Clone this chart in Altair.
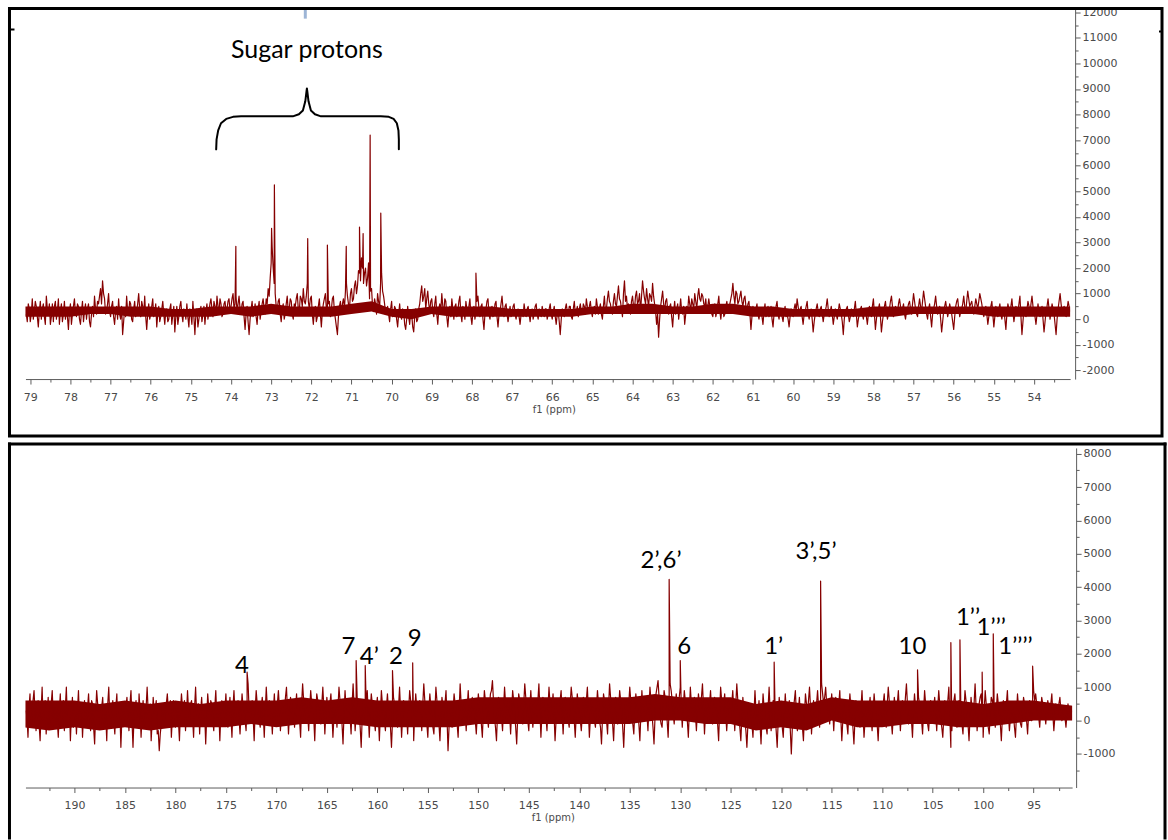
import altair as alt
import pandas as pd

RED = "#860000"
AXIS_GREY = "#5c5c5c"
LABEL_GREY = "#4a4a4a"

# ---------------- top spectrum (79 - 53 ppm) ----------------
top_start_ppm = 79.10
top_step_ppm = 0.05
# baseline noise on the 0.05 ppm grid, in units of 100 (one row = 1 ppm)
top_noise_hundreds = [
    2, 6, -1, 8, 3, 5, -3, 7, 4, 1, 9, 2, -2, 6, 5, 0, 8, 3, -1, 7,
    4, -4, 6, 2, 8, 1, 5, -2, 7, 3, 0, 6, -3, 5, 9, 2, 6, 12, 15, 8,
    3, 10, 1, 7, -2, 5, 8, 0, -6, 4, 9, 2, 6, -1, 7, 3, 10, 1, 5, 9,
    -4, 6, 2, 8, 3, -3, 5, 1, 7, -2, 4, 0, 6, 2, -5, 5, 1, 7, -1, 3,
    6, -3, 2, 7, -6, 4, 0, 5, 2, -2, 6, 3, 8, 1, 5, 9, 3, 6, 2, 7,
    4, 8, 5, 10, 6, 3, 9, 2, 7, -4, 5, -6, 4, 1, 6, -2, 7, 3, 8, 2,
    6, 9, 22, 20, 10, 3, 8, -1, 6, 2, 9, 4, 7, 0, 5, 10, 3, 8, 12, 6,
    14, 4, 9, -2, 5, 1, 8, -3, 6, 10, 2, 7, 4, 9, 0, -6, 5, 2, 8, 11,
    9, 4, 12, 8, 15, 13, 18, 24, 14, 20, 16, 8, 12, 3, 6, 10, 4, 18, 9, 2,
    5, -1, 7, 2, 4, -3, 6, 0, 3, -4, 5, -2, 2, -5, 4, 0, 6, 13, 9, 4,
    11, 3, 8, 1, 9, -2, 6, 10, 2, 7, -3, 5, 8, 0, 6, 3, 9, -1, 4, 7,
    2, 8, -2, 5, 3, 9, 1, 6, -4, 4, 8, 0, 5, 2, 7, -3, 3, 9, 1, 6,
    -1, 5, 2, 6, 0, 4, -2, 3, 6, 1, 5, -1, 4, 2, 6, 0, 3, 5, 1, 4,
    2, 6, 0, 5, -2, 3, -6, 4, 1, 6, 2, 5, 0, 7, 3, 1, 6, 2, 5, 8,
    3, 7, 1, 5, 8, 2, 6, 0, 9, 4, 11, 6, 2, 10, 5, 13, 7, 1, 15, 9,
    6, 2, 9, 4, 11, 7, 3, 15, 8, 12, 5, 9, 14, 6, -2, -7, 5, 11, 3, 8,
    2, 6, -3, 7, 4, 0, 8, 2, -2, 5, 9, 3, 6, 10, 4, 12, 7, 9, 5, 3,
    8, 4, 1, 6, 3, 9, 0, 5, 2, 7, 4, 8, 14, 6, 10, 7, 11, 5, 9, 3,
    7, -4, 5, 2, 6, 0, 4, -2, 6, 3, 1, 5, -3, 4, 7, 0, 3, -1, 5, 2,
    -3, 4, 1, 6, 8, 2, 5, -2, 3, 7, 0, 4, -5, 2, 6, 1, 5, -1, 3, 8,
    1, 5, -2, 4, 0, 6, 2, -6, 3, 5, -1, 4, 1, 7, -3, 2, 5, 0, 4, -2,
    5, 1, 8, -4, 3, 6, -5, 2, 7, 0, 4, 9, 1, 5, 2, 8, 3, 6, 0, 4,
    7, 2, 10, 4, 1, 8, 3, 11, 5, 0, 6, -3, 4, 9, 2, 5, -5, 3, 7, 1,
    6, 2, -4, 5, 8, 1, 4, 9, 3, 11, 5, 7, 2, 8, 4, 10, 6, 1, 5, -2,
    3, 7, -3, 5, 1, 6, 0, 4, -4, 6, 2, 8, -1, 5, 3, 9, -6, 4, 1, 7,
    2, 9, 4, -2, 6, 1, 5, -5, 3, 8, 0, 6, 2, -6, 4, 10, 3, 5, 1, 7,
    3,
]
# noise at the half-step points between the grid points above (units of 100)
top_noise_mid_hundreds = [
    -1, 4, 2, 0, 7, 1, 3, 0, 6, -2, 4, 6, 1, -1, 7, 3, -2, 6, 2, 0,
    1, 3, -2, 5, 2, 6, 0, 3, -1, 6, 4, -1, 2, 1, 4, 7, 9, 6, 10, 2,
    6, 3, 5, 1, 3, 0, 2, 5, -1, 1, 3, 7, 0, 4, 1, 6, 4, 7, 2, 1,
    2, 0, 5, 1, 6, 2, -1, 4, 2, 3, -1, 4, -2, 5, 1, -2, 5, 2, 4, 0,
    1, 4, -2, 1, 2, -3, 3, -1, 5, 3, 0, 6, 4, 7, 2, 5, 8, 1, 6, 3,
    7, 3, 8, 4, 9, 6, 4, 6, 1, 2, -1, 0, 7, 3, 1, 4, 0, 6, 4, 8,
    12, 16, 28, 14, 5, 7, 2, 4, 0, 6, 3, 8, 2, 6, 8, 4, 9, 5, 7, 9,
    7, 8, 2, 3, -1, 5, 2, 3, 8, 4, 6, 1, 8, 3, -3, 1, 7, 6, 4, 14,
    6, 10, 7, 13, 10, 19, 15, 20, 18, 13, 22, 11, 5, 8, 2, 7, 14, 11, 6, 4,
    2, 4, 1, 5, 0, 2, 1, 4, -2, 0, 1, 3, -3, 1, -1, 4, 10, 7, 12, 8,
    6, 7, 3, 6, 2, 4, 3, 5, 8, 1, 2, 1, 4, 5, 1, 7, 2, 5, 0, 4,
    5, 1, 3, 0, 7, 4, 5, 0, 2, 7, 2, 4, 1, 6, 1, 2, 6, 4, 5, 2,
    2, 1, 5, 2, 3, 1, 2, 1, 3, 4, 2, 3, 0, 5, 2, 4, 1, 3, 4, 0,
    4, 2, 3, 1, 2, -1, 0, 2, 4, 3, 5, 1, 4, 2, 5, 4, 3, 6, 2, 5,
    5, 3, 4, 2, 5, 4, 2, 5, 3, 8, 7, 3, 7, 6, 9, 8, 4, 10, 7, 4,
    4, 7, 5, 9, 6, 10, 9, 11, 6, 8, 10, 7, 9, 3, 2, 0, 8, 6, 7, 4,
    5, 1, 3, 2, 6, 4, 3, 5, 2, 3, 6, 8, 4, 7, 9, 8, 10, 6, 8, 5,
    5, 2, 4, 1, 6, 3, 4, 1, 5, 3, 6, 10, 9, 11, 6, 9, 7, 8, 5, 6,
    2, 1, 3, 4, 2, 3, 1, 3, 1, 5, 3, 0, 2, 5, 2, 4, 1, 3, 1, 0,
    1, 2, 4, 3, 5, 4, 1, 2, 5, 2, 3, 0, -1, 4, 3, 4, 2, 2, 5, 4,
    3, 2, 1, 2, 3, 4, -1, 0, 4, 2, 1, 3, 4, 2, 0, 4, 2, 3, 1, 2,
    3, 5, 2, 0, 4, 1, -1, 5, 3, 2, 7, 5, 3, 4, 6, 5, 4, 2, 3, 6,
    4, 6, 7, 2, 5, 5, 7, 8, 2, 4, 1, 2, 6, 5, 4, 0, -1, 5, 4, 3,
    4, -1, 1, 7, 4, 3, 6, 5, 7, 8, 6, 4, 5, 6, 7, 8, 3, 4, 2, 1,
    5, 2, 1, 3, 4, 2, 3, 0, 2, 4, 5, 3, 2, 4, 6, 1, -1, 2, 4, 5,
    6, 5, 1, 2, 3, 4, 0, -1, 5, 4, 3, 4, -2, 0, 7, 6, 4, 3, 4, 5,
]
# dense core of the top trace, read every 0.5 ppm (units of 100)
top_core_ppm = [79.5 - 0.5 * k for k in range(54)]
top_core_low = [1, 1, 1, 1, 2, 2, 1, 1, 1, 1, 1, 2, 1, 2, 1, 1, 1, 2, 3, 1, 0, 2, 1, 1, 1, 1, 1,
                1, 1, 2, 2, 2, 2, 2, 2, 2, 2, 1, 1, 1, 1, 1, 1, 1, 1, 2, 2, 2, 2, 1, 1, 1, 1, 1]
top_core_high = [5, 5, 5, 5, 5, 5, 5, 5, 4, 4, 5, 5, 5, 6, 5, 5, 5, 6, 7, 4, 4, 5, 5, 5, 5, 4, 4,
                 4, 4, 5, 5, 6, 6, 5, 5, 6, 6, 5, 5, 4, 4, 4, 4, 5, 5, 5, 5, 5, 5, 5, 5, 5, 5, 5]
top_peak_ppm = [73.88, 72.99, 72.92, 72.09, 71.60, 71.13, 70.80, 70.71, 70.535, 70.27, 67.90]
top_peak_intensity = [2850, 3550, 5250, 3150, 2900, 2850, 3600, 3350, 7200, 4150, 1800]

# curly brace above the sugar signals (ppm, intensity)
brace_ppm = [74.37, 74.36, 74.32, 74.25, 74.12, 73.95, 73.75, 72.46, 72.31, 72.21, 72.15, 72.12,
             72.11, 72.10, 72.07, 72.01, 71.91, 71.76, 70.27, 70.07, 69.95, 69.87, 69.83, 69.82, 69.82]
brace_intensity = [6640, 7030, 7380, 7660, 7830, 7910, 7930, 7930, 8010, 8160, 8520, 8910,
                   9020, 8910, 8520, 8160, 8010, 7930, 7930, 7910, 7830, 7660, 7380, 7030, 6640]

# ---------------- bottom spectrum (195 - 91 ppm) ----------------
bot_start_ppm = 194.8
bot_step_ppm = 0.2
# baseline noise on the 0.2 ppm grid, in units of 100 (one row = 5 ppm)
bot_noise_hundreds = [
    3, -5, 8, 1, 9, -3, 6, -6, 10, 2, -4, 7, 0, 9, -2, 5, -5, 8, 3, -3, 10, 1, -6, 7, 2,
    -4, 9, 2, -5, 6, 0, 8, -3, 5, -7, 9, 1, -2, 7, 4, -6, 10, -1, 6, -4, 8, 2, -8, 5, 0,
    7, -3, 9, -8, 4, 1, 8, -5, 6, -2, 10, 0, -6, 7, 3, -4, -9, -1, 5, 2, 8, 2, -5, 6, -2,
    5, -6, 8, 2, -3, 9, 0, 6, -5, 10, 1, -4, 7, 3, -7, 8, -1, 5, -3, 9, 2, -6, 6, 0, 8,
    -2, 7, -5, 9, 1, 6, -4, 8, 3, -3, 11, 0, 6, -6, 9, 2, -2, 7, -5, 10, 1, 5, -4, 8, 0,
    9, -3, 6, 2, 10, -4, 7, 1, -2, 8, 4, -5, 11, 0, 6, -3, 9, 2, -6, 8, 3, -1, 10, -4, 7,
    1, 8, -5, 6, -2, 10, 3, -7, 9, 0, 5, -4, 11, -3, 7, 2, -8, 6, 0, 9, -5, 8, 1, -3, 7,
    -6, 9, 2, -3, 8, 0, -8, 7, 4, -2, 10, -5, 6, 1, -4, 9, 3, -6, 8, -1, 6, -3, 11, 2, -5,
    8, 0, -4, 10, 3, -6, 7, 1, 9, -9, 5, -2, 8, 2, -5, 11, 0, 6, -3, 9, -1, 7, 4, -4, 8,
    2, -5, 9, 3, -2, 8, 12, 1, -6, 7, 4, -3, 10, 0, 6, -4, 9, 2, -7, 8, 5, -1, 11, 3, -3,
    9, -2, 6, 1, 11, -5, 7, 3, -3, 10, 0, 8, -6, 5, 2, 9, -4, 7, 1, -2, 10, 4, -5, 8, 2,
    -3, 7, 1, 10, -5, 6, 3, -2, 9, 0, -7, 8, 4, -4, 11, 2, -6, 7, -1, 9, 3, -8, 6, 0, 10,
    1, -4, 8, 3, -6, 9, 0, 6, -3, 10, 2, -7, 8, 12, 1, -2, 9, 4, -5, 11, 6, -1, 8, 3, 10,
    -2, 9, 4, -5, 10, 1, 7, -3, 8, 2, 11, -4, 6, 0, 9, -1, 7, 3, -6, 10, 2, 8, -3, 6, 1,
    9, -3, 11, 2, -6, 7, 0, -8, 5, 3, -5, 9, -2, 6, -7, 8, 1, -4, 10, -3, 6, 2, -8, 7, 1,
    -5, 8, -2, 6, -10, 4, 9, -3, 7, 0, -6, 8, 2, 10, -4, 6, 1, 9, -2, 11, 5, 10, 3, -1, 8,
    -3, 7, 0, 9, -6, 5, 2, -4, 8, 1, -7, 6, 3, -2, 9, -5, 4, 0, 7, -3, 8, 2, -6, 5, 1,
    8, -2, 10, 3, -4, 7, 1, 9, -3, 6, 2, 11, -1, 5, -5, 8, 0, 7, 3, -4, 9, 2, -3, 6, 1,
    7, -3, 9, 0, -5, 6, 2, 10, -8, 4, 8, -2, 6, 1, -4, 9, 3, -6, 7, 0, 11, -3, 5, 8, -5,
    9, 1, -4, 7, 4, -2, 8, 3, -6, 6, 0, 9, -3, 5, 2, -5, 8, 1, -2, 7, 3, -4, 6, 0, 9,
    8, 2, -2, 7, 4, -1, 6, 1, 8, -3, 5, 2, 7, 0, 4, -2, 5, 1, 3,
]
# noise at the half-step points between the grid points above (units of 100)
bot_noise_mid_hundreds = [
    1, 4, -2, 6, 2, 5, -1, 3, 0, 6, 2, -1, 5, 1, 4, 0, 3, -1, 6, 4, 0, 5, 2, -2, 3,
    3, 0, 5, 2, -1, 4, 1, 6, -2, 2, 5, 3, 4, -1, 2, 5, 1, 3, 0, 4, -1, 3, 1, 2, 4,
    2, 5, 0, 1, 6, -2, 3, 2, 1, 4, 3, 5, 0, 2, 6, -3, -4, 4, 0, 5, 3, 6, 1, 3, 4,
    0, 3, 4, 6, 2, 3, 5, 1, 4, 2, 5, 3, 0, 2, 1, 4, 6, 0, 4, 1, 3, 2, 4, 3, 2,
    3, 1, 4, 2, 5, 1, 2, 4, 0, 6, 3, 4, 1, 3, 5, 0, 4, 2, 3, 4, 6, 2, 3, 1, 5,
    4, 2, 5, 7, 3, 2, 5, 3, 4, 1, 0, 5, 6, 3, 2, 4, 5, 1, 3, 6, 2, 5, 4, 2, 3,
    5, 2, 1, 3, 4, 6, -1, 2, 4, 3, 1, 5, 4, 2, 5, -2, 1, 3, 4, 2, 3, 5, 0, 4, 1,
    2, 5, 0, 4, 3, -2, 0, 5, 2, 4, 3, 1, 4, 2, 3, 6, -1, 2, 4, 3, 2, 5, 6, -1, 3,
    4, -2, 3, 6, -1, 2, 4, 5, 1, -2, 2, 3, 5, -1, 3, 5, 3, 2, 4, 3, 2, 5, 0, 2, 5,
    -1, 3, 6, 1, 4, 9, 6, -2, 2, 5, 1, 4, 5, 3, 2, 3, 6, -2, 1, 6, 2, 5, 7, 0, 4,
    3, 2, 4, 6, 3, 2, 5, 1, 4, 5, 4, 2, 0, 3, 6, 2, 3, 4, 0, 5, 7, 0, 2, 5, 0,
    2, 4, 6, 3, 1, 5, 0, 4, 5, -2, 1, 6, 0, 4, 7, -1, 2, 3, 4, 6, -2, 0, 3, 5, 6,
    -1, 3, 5, -1, 2, 4, 3, 2, 4, 6, -2, 1, 10, 7, -1, 4, 7, 0, 4, 9, 2, 4, 5, 7, 4,
    4, 6, 0, 3, 5, 4, 2, 3, 5, 7, 4, 2, 3, 5, 3, 4, 5, -1, 3, 6, 5, 2, 2, 4, 5,
    3, 5, 6, -2, 1, 3, -3, -1, 4, -1, 2, 3, 2, -1, 1, 4, -2, 4, 3, 2, 4, -3, 0, 3, -2,
    2, 3, 1, -3, -2, 6, 2, 3, 1, -2, 2, 5, 6, 4, 2, 3, 5, 4, 6, 8, 7, 5, 2, 4, 3,
    3, 2, 5, 1, 0, 3, -1, 3, 4, -2, 0, 4, 1, 4, 2, 0, 2, 4, 1, 3, 4, -1, 1, 2, 5,
    3, 5, 6, 0, 2, 4, 5, 3, 2, 4, 7, 5, 2, 0, 3, 4, 3, 5, 0, 3, 5, -1, 2, 3, 4,
    2, 4, 5, -2, 1, 4, 6, 1, -3, 6, 3, 2, 4, -1, 3, 6, -1, 1, 3, 5, 4, 1, 7, 2, 3,
    5, -2, 2, 6, 1, 3, 5, -1, 1, 3, 5, 2, 1, 4, -2, 2, 4, -1, 3, 5, 0, 2, 3, 4, 6,
    5, 1, 3, 5, 2, 3, 4, 5, 2, 1, 4, 5, 3, 2, 1, 2, 3, 2,
]
# dense core of the bottom trace, read every 2.5 ppm (units of 100)
bot_core_ppm = [195 - 2.5 * k for k in range(43)]
bot_core_low = [-2, -3, -2, -3, -2, -3, -2, -2, -2, -1, -2, -1, -1, -1, -2, -2, -2, -2, -1, -1, -1, -1,
                -1, -1, -1, 0, 0, -1, -1, -3, -2, -3, 0, -2, -2, -1, -1, -2, -2, -1, 0, 0, 0]
bot_core_high = [6, 6, 6, 5, 6, 5, 6, 5, 6, 6, 6, 7, 6, 7, 6, 6, 6, 6, 7, 7, 7, 7,
                 7, 7, 7, 8, 7, 7, 7, 5, 6, 5, 7, 6, 6, 6, 6, 6, 5, 6, 6, 5, 4]
bot_peak_ppm = [172.9, 162.1, 161.2, 158.5, 156.5, 131.1, 130.0, 120.7, 116.1,
                106.5, 103.2, 102.3, 100.1, 99.0, 95.1]
bot_peak_intensity = [1450, 1800, 1650, 1500, 1730, 4230, 1800, 1750, 4180,
                      1520, 2340, 2420, 1450, 2600, 1630]

bot_label_text = ["4", "7", "4’", "2", "9", "2’,6’", "6", "1’", "3’,5’", "10", "1’’", "1’’’", "1’’’’"]
bot_label_ppm = [173.4, 162.85, 160.8, 158.15, 156.3, 131.9, 129.6, 120.75, 116.55, 107.0, 101.5, 99.2, 96.8]
bot_label_intensity = [1440, 2000, 1710, 1710, 2250, 4580, 2000, 2000, 4850, 2000, 2870, 2550, 2000]

# axis ticks
top_x_major = list(range(54, 80))
top_x_minor = [v + 0.5 for v in range(53, 79)]
bot_x_major = list(range(95, 195, 5))
bot_x_minor = [v + 2.5 for v in range(90, 195, 5)]
top_y_major = list(range(-2000, 12001, 1000))
top_y_minor = [v + 500 for v in range(-2000, 12000, 1000)]
bot_y_major = list(range(-1000, 8001, 1000))
bot_y_minor = [v + 500 for v in range(-2000, 8000, 1000)]


def spectrum_frame(start, step, noise, noise_mid, pk_ppm, pk_int):
    ppm = [round(start - step * i, 4) for i in range(len(noise))]
    ppm_mid = [round(start - step * (i + 0.5), 4) for i in range(len(noise_mid))]
    df = pd.DataFrame({
        "ppm": ppm + ppm_mid + list(pk_ppm),
        "val": [v * 100 for v in noise] + [v * 100 for v in noise_mid] + list(pk_int),
        "kind": [0] * len(ppm) + [0] * len(ppm_mid) + [1] * len(pk_ppm),
    })
    df = df.sort_values(["ppm", "kind"], ascending=[False, True]).reset_index(drop=True)
    df["i"] = range(len(df))
    return df


def core_frame(ppm, low, high):
    return pd.DataFrame({"ppm": ppm, "val": [v * 100 for v in low], "val2": [v * 100 for v in high]})


def x_axis(values, mod, title_x):
    return alt.Axis(
        values=values,
        labelExpr=f"datum.value % {mod} === 0 ? toString(datum.value) : ''",
        tickSize={"condition": {"test": f"datum.value % {mod} === 0", "value": 5}, "value": 3},
        title="f1 (ppm)", titleFont="DejaVu Sans", titleFontSize=10, titleFontWeight="normal",
        titleColor=LABEL_GREY, titleX=title_x, titlePadding=2,
        labelFont="DejaVu Sans", labelFontSize=11, labelColor=LABEL_GREY, labelPadding=7,
        labelOverlap=False, labelFlush=False, grid=False,
        domainColor=AXIS_GREY, tickColor=AXIS_GREY, domainWidth=1, tickWidth=1,
    )


def y_axis(values, offset):
    return alt.Axis(
        orient="right", values=values, offset=offset,
        labelExpr="datum.value % 1000 === 0 ? toString(datum.value) : ''",
        tickSize={"condition": {"test": "datum.value % 1000 === 0", "value": 5}, "value": 3},
        title="", labelFont="DejaVu Sans", labelFontSize=11, labelColor=LABEL_GREY, labelPadding=2,
        labelOverlap=False, labelFlush=False, grid=False,
        domainColor=AXIS_GREY, tickColor=AXIS_GREY, domainWidth=1, tickWidth=1,
    )


one = pd.DataFrame({"k": [0]})

# ---------------- top panel ----------------
W1, H1 = 1046, 371
top_df = spectrum_frame(top_start_ppm, top_step_ppm, top_noise_hundreds, top_noise_mid_hundreds,
                        top_peak_ppm, top_peak_intensity)
tx = alt.X("ppm:Q", scale=alt.Scale(domain=[53.10, 79.12], reverse=True, nice=False, zero=False),
           axis=x_axis(top_x_major + top_x_minor, 1, 529))
ty = alt.Y("val:Q", scale=alt.Scale(domain=[-2340, 12145], nice=False, zero=False),
           axis=y_axis(top_y_major + top_y_minor, 5))

top_core = alt.Chart(core_frame(top_core_ppm, top_core_low, top_core_high)).mark_area(
    color=RED, clip=True).encode(x=tx, y=ty, y2="val2")
top_line = alt.Chart(top_df).mark_line(color=RED, strokeWidth=1.2, strokeJoin="round", clip=True).encode(
    x=tx, y=ty, order="i:Q")
brace_df = pd.DataFrame({"ppm": brace_ppm, "val": brace_intensity, "i": list(range(len(brace_ppm)))})
brace = alt.Chart(brace_df).mark_line(color="black", strokeWidth=2, strokeJoin="round", strokeCap="round").encode(
    x=tx, y=ty, order="i:Q")
sugar = alt.Chart(pd.DataFrame({"ppm": [72.11], "val": [10230], "t": ["Sugar protons"]})).mark_text(
    font="Lato", fontSize=25, color="black", align="center", baseline="alphabetic").encode(x=tx, y=ty, text="t:N")
blue = alt.Chart(pd.DataFrame({"ppm": [72.15], "val": [11750], "val2": [12145]})).mark_rule(
    color="#9db5d6", strokeWidth=3).encode(x=tx, y=ty, y2="val2")
frame1 = alt.Chart(one).mark_rect(filled=False, stroke="black", color="black", strokeWidth=3).encode(
    x=alt.value(-16), x2=alt.value(1138), y=alt.value(0), y2=alt.value(428))
dash_l = alt.Chart(one).mark_rule(color="black", strokeWidth=2).encode(
    x=alt.value(-15), x2=alt.value(-11), y=alt.value(21))
dash_r = alt.Chart(one).mark_rule(color="black", strokeWidth=2).encode(
    x=alt.value(1135), x2=alt.value(1139), y=alt.value(23))

top = alt.layer(top_core, top_line, brace, sugar, blue, frame1, dash_l, dash_r).properties(width=W1, height=H1)

# ---------------- bottom panel ----------------
W2, H2 = 1048, 340
bot_df = spectrum_frame(bot_start_ppm, bot_step_ppm, bot_noise_hundreds, bot_noise_mid_hundreds,
                        bot_peak_ppm, bot_peak_intensity)
bx = alt.X("ppm:Q", scale=alt.Scale(domain=[91.19, 194.85], reverse=True, nice=False, zero=False),
           axis=x_axis(bot_x_major + bot_x_minor, 5, 528))
by = alt.Y("val:Q", scale=alt.Scale(domain=[-2006, 8170], nice=False, zero=False),
           axis=y_axis(bot_y_major + bot_y_minor, 4))

bot_core = alt.Chart(core_frame(bot_core_ppm, bot_core_low, bot_core_high)).mark_area(
    color=RED, clip=True).encode(x=bx, y=by, y2="val2")
bot_line = alt.Chart(bot_df).mark_line(color=RED, strokeWidth=1.2, strokeJoin="round", clip=True).encode(
    x=bx, y=by, order="i:Q")
lab_df = pd.DataFrame({"ppm": bot_label_ppm, "val": bot_label_intensity, "t": bot_label_text})
labels = alt.Chart(lab_df).mark_text(font="Lato", fontSize=24, color="black", align="center",
                                     baseline="alphabetic").encode(x=bx, y=by, text="t:N")
# open frame (left, top, right) running off the bottom of the page
edge_left = alt.Chart(one).mark_rule(color="black", strokeWidth=3).encode(
    x=alt.value(-16), y=alt.value(-5.5), y2=alt.value(392))
edge_top = alt.Chart(one).mark_rule(color="black", strokeWidth=3).encode(
    x=alt.value(-17.5), x2=alt.value(1142.5), y=alt.value(-4))
edge_right = alt.Chart(one).mark_rule(color="black", strokeWidth=3).encode(
    x=alt.value(1141), y=alt.value(-5.5), y2=alt.value(392))

bottom = alt.layer(bot_core, bot_line, labels, edge_left, edge_top, edge_right).properties(width=W2, height=H2)

chart = alt.vconcat(top, bottom, spacing=69, bounds="flush").properties(
    padding={"left": 6.5, "top": 5, "right": 0, "bottom": 0},
    background="white",
).configure_view(strokeOpacity=0)

chart.save("out.html", embed_options={"renderer": "svg", "actions": False})
